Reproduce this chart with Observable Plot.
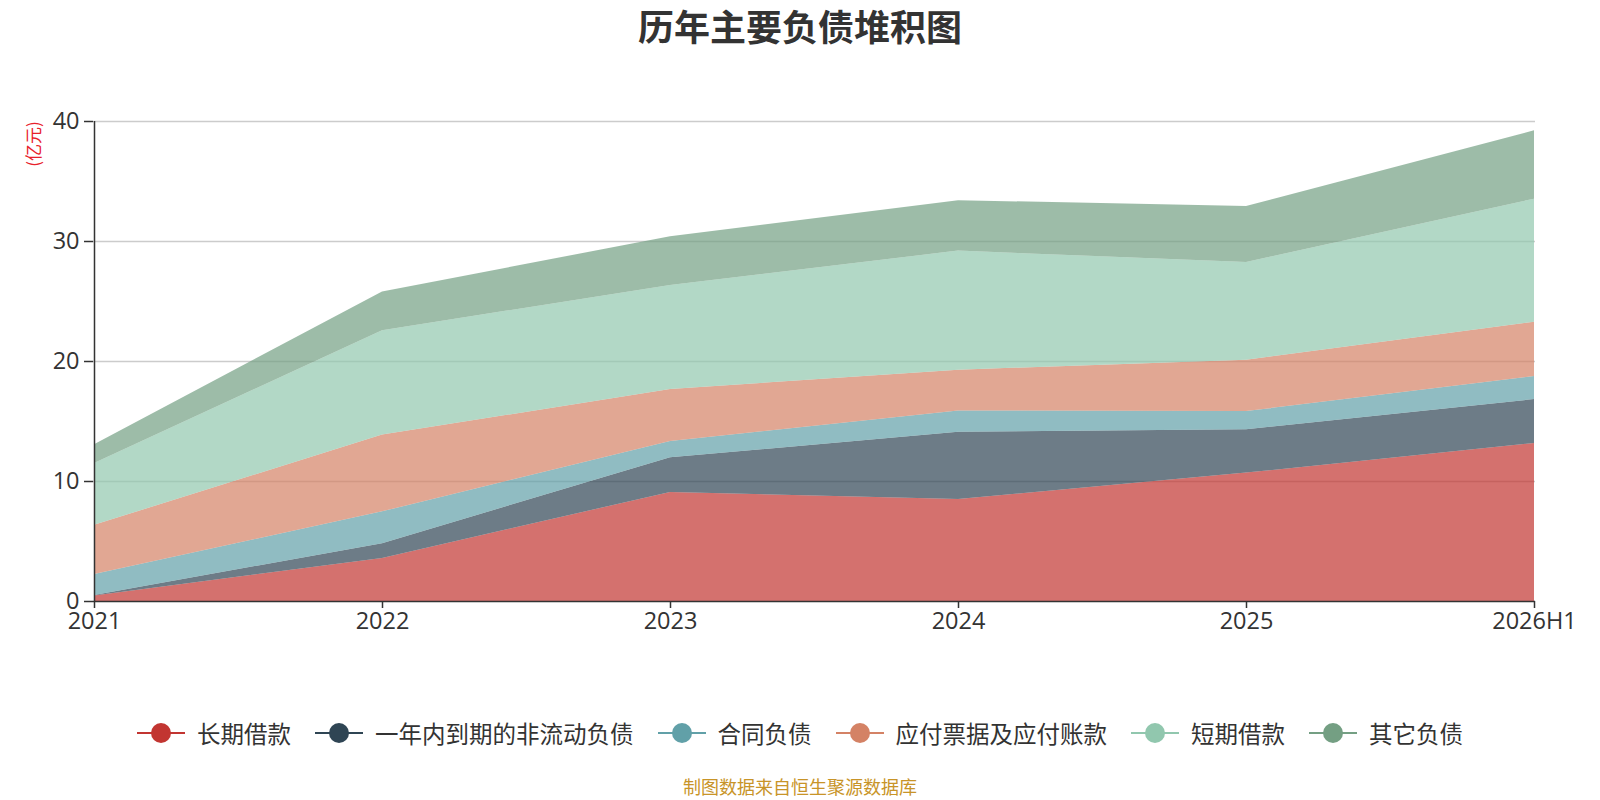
<!DOCTYPE html>
<html><head><meta charset="utf-8">
<script src="https://cdn.jsdelivr.net/npm/d3@7"></script>
<script src="https://cdn.jsdelivr.net/npm/@observablehq/plot@0.6"></script>
<style>
body{margin:0;background:#fff;font-family:"Noto Sans CJK SC","Noto Sans",sans-serif;}
#wrap{position:relative;width:1600px;height:800px;overflow:hidden;}
#title{position:absolute;left:0;top:0px;width:1600px;text-align:center;font-size:36px;font-weight:bold;color:#333;line-height:50px;}
#chart{position:absolute;left:0;top:0;}
#ylabel{position:absolute;left:32px;top:144px;transform:translate(-50%,-50%) rotate(-90deg);color:#e8212b;font-size:17px;white-space:nowrap;}
#legend{position:absolute;left:0;top:716px;width:1600px;display:flex;justify-content:center;align-items:center;gap:24px;font-size:23.5px;color:#333;}
.item{display:flex;align-items:center;gap:12px;}
#source{position:absolute;left:0;top:775px;width:1600px;text-align:center;font-size:18px;color:#c89428;line-height:23px;}
</style></head><body>
<div id="wrap">
<div id="title">历年主要负债堆积图</div>
<div id="chart"></div>
<div id="ylabel">(亿元)</div>
<div id="legend"></div>
<div id="source">制图数据来自恒生聚源数据库</div>
</div>
<script>
const years = ["2021","2022","2023","2024","2025","2026H1"];
const seriesNames = ["长期借款","一年内到期的非流动负债","合同负债","应付票据及应付账款","短期借款","其它负债"];
const seriesColors = ["#c23531","#2f4554","#61a0a8","#d48265","#91c7ae","#749f83"];
const longTermLoans   = [0.46, 3.59, 9.09, 8.49, 10.70, 13.17];
const currentNonCurr  = [0.04, 1.23, 2.88, 5.61, 3.61, 3.66];
const contractLiab    = [1.74, 2.65, 1.36, 1.78, 1.52, 1.92];
const payables        = [4.11, 6.40, 4.33, 3.40, 4.27, 4.53];
const shortTermLoans  = [5.15, 8.70, 8.67, 9.92, 8.15, 10.25];
const otherLiab       = [1.57, 3.22, 4.07, 4.20, 4.67, 5.69];
const yTicks = [0, 10, 20, 30, 40];

const seriesValues = [longTermLoans, currentNonCurr, contractLiab, payables, shortTermLoans, otherLiab];
const rows = [];
seriesNames.forEach((s, i) => years.forEach((y, j) => rows.push({year: y, series: s, value: seriesValues[i][j]})));

const chart = Plot.plot({
  width: 1600,
  height: 680,
  marginTop: 121,
  marginBottom: 79,
  marginLeft: 93,
  marginRight: 65,
  style: {fontSize: "23.5px", fontFamily: "'Open Sans','Noto Sans',sans-serif", color: "#333", background: "transparent"},
  x: {type: "point", domain: years, padding: 0, label: null},
  y: {domain: [0, 40], ticks: yTicks, label: null},
  color: {domain: seriesNames, range: seriesColors},
  marks: [
    Plot.ruleY(yTicks.filter(d => d > 0), {stroke: "#cccccc", strokeWidth: 1.5}),
    Plot.areaY(rows, Plot.stackY({order: seriesNames}, {x: "year", y: "value", z: "series", fill: "series", fillOpacity: 0.7, curve: "linear"})),
    Plot.ruleY([0], {stroke: "#333", strokeWidth: 1.5}),
    Plot.ruleX([years[0]], {stroke: "#333", strokeWidth: 1.5}),
    Plot.axisY({ticks: yTicks, tickSize: 9, tickPadding: 5, stroke: "#333", strokeWidth: 1.5, label: null}),
    Plot.axisX({tickSize: 7, tickPadding: 4, stroke: "#333", strokeWidth: 1.5, label: null})
  ]
});
document.getElementById("chart").appendChild(chart);

const legend = document.getElementById("legend");
seriesNames.forEach((s, i) => {
  const item = document.createElement("div");
  item.className = "item";
  item.innerHTML = `<svg width="48" height="22"><line x1="0" x2="48" y1="11" y2="11" stroke="${seriesColors[i]}" stroke-width="2"/><circle cx="24" cy="11" r="10" fill="${seriesColors[i]}"/></svg><span>${s}</span>`;
  legend.appendChild(item);
});
</script>
</body></html>
